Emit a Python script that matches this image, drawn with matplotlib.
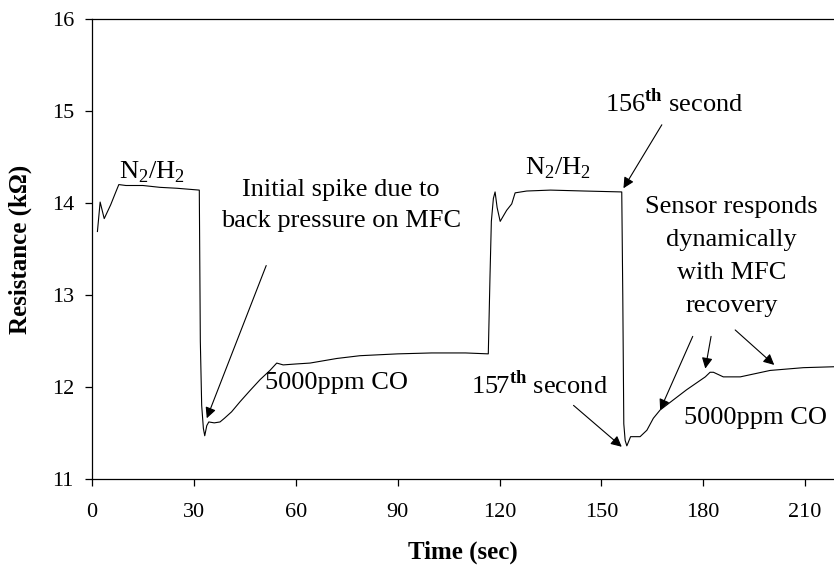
import numpy as np
import matplotlib.pyplot as plt

plt.rcParams['font.family'] = ['Liberation Serif', 'DejaVu Serif']
plt.rcParams['mathtext.fontset'] = 'custom'
plt.rcParams['mathtext.rm'] = 'Liberation Serif'
plt.rcParams['mathtext.bf'] = 'Liberation Serif:bold'

# resistance trace
time_s = [1.6, 2.4, 3.6, 5.5, 6.8, 7.9, 10, 15, 20, 25, 31.6,
          31.9, 32.3, 32.8, 33.2, 33.8, 34.4, 36, 37.7, 39, 41.1, 43.6,
          46.5, 49.5, 52.4, 54.4, 56.3, 60, 64.2, 72.1, 78.9, 90, 100,
          110, 116.7, 117.2, 117.6, 118.2, 118.7, 119.3, 120.2, 122.1,
          123.6, 124.6, 128, 135, 145, 156, 156.3, 156.6, 157, 157.5,
          158.6, 161.4, 163.4, 165.3, 167.3, 175.1, 180.6, 182, 183,
          185.9, 190.9, 199.7, 209.5, 218.5]
res_kohm = [13.69, 14.01, 13.83, 13.98, 14.1, 14.2, 14.19, 14.19, 14.17,
            14.16, 14.14, 12.5, 11.8, 11.55, 11.47, 11.58, 11.62, 11.61,
            11.62, 11.66, 11.73, 11.84, 11.96, 12.08, 12.18, 12.26, 12.24,
            12.25, 12.26, 12.31, 12.34, 12.36, 12.37, 12.37, 12.36, 13.2,
            13.8, 14.05, 14.12, 13.95, 13.8, 13.92, 13.99, 14.11, 14.13,
            14.14, 14.13, 14.12, 13.0, 11.6, 11.42, 11.36, 11.46, 11.46,
            11.53, 11.66, 11.75, 11.97, 12.11, 12.16, 12.16, 12.11, 12.11,
            12.18, 12.21, 12.22]

xticks = [0, 30, 60, 90, 120, 150, 180, 210]
yticks = [11, 12, 13, 14, 15, 16]

fig = plt.figure(figsize=(8.34, 5.68), dpi=100)
ax = fig.add_axes([0.1103, 0.1567, 0.8897, 0.8099])
ax.plot(time_s, res_kohm, color='black', lw=0.8)

ax.set_xlim(0, 218.5)
ax.set_ylim(11, 16)
ax.set_xticks(xticks)
ax.set_yticks(yticks)
ax.spines['right'].set_visible(False)
for s in ['left', 'bottom', 'top']:
    ax.spines[s].set_linewidth(0.9)
ax.tick_params(axis='both', direction='out', length=5, width=0.9, labelsize=16)
ax.tick_params(axis='x', pad=12)
ax.tick_params(axis='y', pad=8)

ax.set_xlabel('Time (sec)', fontsize=18, fontweight='bold', labelpad=14)
ax.set_ylabel('Resistance (k\u03a9)', fontsize=18, fontweight='bold', labelpad=14)

fs = 19
arrow = dict(arrowstyle='-|>', color='black', lw=0.8, mutation_scale=16,
             shrinkA=0, shrinkB=0)

ax.text(17.7, 14.33, 'N$_2$/H$_2$', fontsize=fs, ha='center', va='center')
ax.text(137.1, 14.38, 'N$_2$/H$_2$', fontsize=fs, ha='center', va='center')
ax.text(73.3, 13.97, 'Initial spike due to\nback pressure on MFC', fontsize=fs,
        ha='center', va='center', linespacing=1.55)
ax.text(71.9, 12.04, '5000ppm CO', fontsize=fs, ha='center', va='center')
ax.text(195.3, 11.66, '5000ppm CO', fontsize=fs, ha='center', va='center')
ax.text(171.4, 15.09, r'156$^{\mathbf{th}}$ second', fontsize=fs,
        ha='center', va='center')
ax.text(131.7, 12.02, r'157$^{\mathbf{th}}$ second', fontsize=fs,
        ha='center', va='center')
ax.text(188.4, 13.42, 'Sensor responds\ndynamically\nwith MFC\nrecovery',
        fontsize=fs, ha='center', va='center', linespacing=1.65)

ax.annotate('', xy=(33.8, 11.66), xytext=(51.3, 13.32), arrowprops=arrow)
ax.annotate('', xy=(156.5, 14.16), xytext=(167.8, 14.85), arrowprops=arrow)
ax.annotate('', xy=(156.0, 11.35), xytext=(141.8, 11.8), arrowprops=arrow)
ax.annotate('', xy=(167.3, 11.75), xytext=(176.9, 12.55), arrowprops=arrow)
ax.annotate('', xy=(180.6, 12.2), xytext=(182.3, 12.55), arrowprops=arrow)
ax.annotate('', xy=(200.9, 12.24), xytext=(189.4, 12.62), arrowprops=arrow)

fig.savefig('out.png', dpi=100)
